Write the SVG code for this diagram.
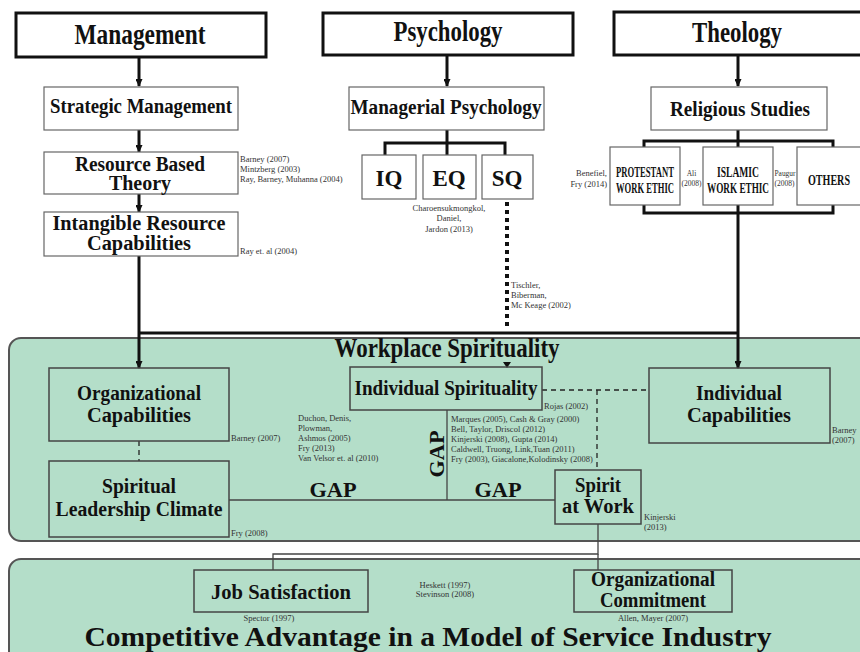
<svg xmlns="http://www.w3.org/2000/svg" width="860" height="652" viewBox="0 0 860 652">
<defs>
<marker id="ah" markerWidth="8" markerHeight="7" refX="7" refY="3.5" orient="auto" markerUnits="userSpaceOnUse">
<path d="M0,0 L8,3.5 L0,7 Z" fill="#111"/>
</marker>
</defs>
<style>
.big{stroke:#111;stroke-width:3;fill:#fff}
.box{stroke:#666;stroke-width:1.2;fill:#fff}
.gbox{stroke:#444;stroke-width:1.5;fill:none}
.panel{fill:#b4dec9;stroke:#555;stroke-width:2}
.t{font-family:"Liberation Serif","Times New Roman",serif;font-weight:bold;fill:#111;text-anchor:middle}
.h1{font-size:29px}
.h2{font-size:20px}
.h3{font-size:14px}
.c{font-family:"Liberation Serif","Times New Roman",serif;font-size:8.5px;fill:#333}
.cs{font-size:7.5px}
.cm{text-anchor:middle}
.ce{text-anchor:end}
.th{stroke:#111;stroke-width:3;fill:none}
.thin{stroke:#444;stroke-width:1.3;fill:none}
.dash{stroke:#222;stroke-width:1.3;fill:none;stroke-dasharray:5 4}
.dot{stroke:#111;stroke-width:4;fill:none;stroke-dasharray:4 4}
</style>

<g id="panels">
<rect class="panel" x="9" y="338" width="880" height="203" rx="12"/>
<rect class="panel" x="9" y="559" width="880" height="120" rx="12"/>
</g>

<g id="connectors">
<line class="th" x1="139" y1="57" x2="139" y2="86" marker-end="url(#ah)"/>
<line class="th" x1="139" y1="130" x2="139" y2="152" marker-end="url(#ah)"/>
<line class="th" x1="139" y1="194" x2="139" y2="212" marker-end="url(#ah)"/>
<line class="th" x1="139" y1="256" x2="139" y2="368" marker-end="url(#ah)"/>
<line class="th" x1="139" y1="333" x2="738" y2="333"/>
<line class="th" x1="447" y1="55" x2="447" y2="86" marker-end="url(#ah)"/>
<polyline class="th" points="385,155 385,143 505,143 505,155"/>
<line class="th" x1="447" y1="130" x2="447" y2="155"/>
<line class="dot" x1="507" y1="202" x2="507" y2="330"/>
<path d="M503,362 L511,362 L507,368 Z" fill="#111"/>
<line class="th" x1="738" y1="55" x2="738" y2="86" marker-end="url(#ah)"/>
<polyline class="th" points="644,148 644,141 833,141 833,148"/>
<line class="th" x1="738" y1="130" x2="738" y2="148"/>
<polyline class="th" points="644,205 644,213 833,213 833,205"/>
<line class="th" x1="738" y1="205" x2="738" y2="368" marker-end="url(#ah)"/>
<line class="dash" x1="139" y1="441" x2="139" y2="461"/>
<line class="dash" x1="542" y1="390" x2="649" y2="390"/>
<line class="dash" x1="597" y1="390" x2="597" y2="470"/>
<line class="thin" x1="447" y1="410" x2="447" y2="500"/>
<line class="thin" x1="229" y1="500" x2="555" y2="500"/>
<polyline class="thin" points="598,524 598,554 273,554 273,570"/>
<line class="thin" x1="598" y1="554" x2="598" y2="570"/>
</g>

<g id="management">
<rect class="big" x="16" y="13" width="250" height="44"/>
<text class="t h1" x="140" y="44" textLength="131" lengthAdjust="spacingAndGlyphs">Management</text>
</g>
<g id="psychology">
<rect class="big" x="323" y="13" width="250" height="42"/>
<text class="t h1" x="448" y="41" textLength="109" lengthAdjust="spacingAndGlyphs">Psychology</text>
</g>
<g id="theology">
<rect class="big" x="614" y="12" width="260" height="43"/>
<text class="t h1" x="737" y="42" textLength="90" lengthAdjust="spacingAndGlyphs">Theology</text>
</g>

<g id="strategic-management">
<rect class="box" x="44" y="87" width="194" height="43"/>
<text class="t h2" x="141" y="113" textLength="182" lengthAdjust="spacingAndGlyphs">Strategic Management</text>
</g>
<g id="managerial-psychology">
<rect class="box" x="349" y="87" width="195" height="43"/>
<text class="t h2" x="446" y="114" textLength="191" lengthAdjust="spacingAndGlyphs">Managerial Psychology</text>
</g>
<g id="religious-studies">
<rect class="box" x="651" y="87" width="176" height="43"/>
<text class="t h2" x="740" y="116" textLength="140" lengthAdjust="spacingAndGlyphs">Religious Studies</text>
</g>

<g id="resource-based-theory">
<rect class="box" x="44" y="152" width="194" height="42"/>
<text class="t h2" x="140" y="171" textLength="130" lengthAdjust="spacingAndGlyphs">Resource Based</text>
<text class="t h2" x="140" y="190">Theory</text>
<text class="c" x="240" y="162">Barney (2007)</text>
<text class="c" x="240" y="172">Mintzberg (2003)</text>
<text class="c" x="240" y="182">Ray, Barney, Muhanna (2004)</text>
</g>
<g id="intangible-resource">
<rect class="box" x="44" y="212" width="194" height="44"/>
<text class="t h2" x="139" y="230" textLength="173" lengthAdjust="spacingAndGlyphs">Intangible Resource</text>
<text class="t h2" x="139" y="250" textLength="104" lengthAdjust="spacingAndGlyphs">Capabilities</text>
<text class="c" x="240" y="254">Ray et. al (2004)</text>
</g>

<g id="iq">
<rect class="box" x="362" y="155" width="54" height="44"/>
<text class="t" x="389" y="186" font-size="23">IQ</text>
</g>
<g id="eq">
<rect class="box" x="423" y="155" width="53" height="44"/>
<text class="t" x="449" y="186" font-size="23">EQ</text>
<text class="c cm" x="449" y="211">Charoensukmongkol,</text>
<text class="c cm" x="449" y="221">Daniel,</text>
<text class="c cm" x="449" y="232">Jardon (2013)</text>
</g>
<g id="sq">
<rect class="box" x="482" y="155" width="51" height="44"/>
<text class="t" x="507" y="186" font-size="23">SQ</text>
<text class="c" x="511" y="288">Tischler,</text>
<text class="c" x="511" y="298">Biberman,</text>
<text class="c" x="511" y="308">Mc Keage (2002)</text>
</g>

<g id="protestant">
<rect class="box" x="610" y="147" width="70" height="58"/>
<text class="t h3" x="645" y="177" textLength="58" lengthAdjust="spacingAndGlyphs">PROTESTANT</text>
<text class="t h3" x="645" y="193" textLength="58" lengthAdjust="spacingAndGlyphs">WORK ETHIC</text>
<text class="c ce" x="607" y="176">Benefiel,</text>
<text class="c ce" x="607" y="187">Fry (2014)</text>
</g>
<g id="islamic">
<rect class="box" x="703" y="147" width="70" height="58"/>
<text class="t h3" x="738" y="177" textLength="42" lengthAdjust="spacingAndGlyphs">ISLAMIC</text>
<text class="t h3" x="738" y="193" textLength="62" lengthAdjust="spacingAndGlyphs">WORK ETHIC</text>
<text class="c cs cm" x="691.5" y="176">Ali</text>
<text class="c cs cm" x="691.5" y="186" textLength="20" lengthAdjust="spacingAndGlyphs">(2008)</text>
</g>
<g id="others">
<rect class="box" x="797" y="147" width="75" height="58"/>
<text class="t h3" x="829" y="185" textLength="42" lengthAdjust="spacingAndGlyphs">OTHERS</text>
<text class="c cs" x="774.5" y="176" textLength="21" lengthAdjust="spacingAndGlyphs">Paugur</text>
<text class="c cs" x="774.5" y="186" textLength="20" lengthAdjust="spacingAndGlyphs">(2008)</text>
</g>

<g id="workplace-spirituality">
<text class="t" x="447" y="357" font-size="27" textLength="225" lengthAdjust="spacingAndGlyphs">Workplace Spirituality</text>
</g>

<g id="organizational-capabilities">
<rect class="gbox" x="49" y="368" width="180" height="73"/>
<text class="t h2" x="139" y="400" textLength="124" lengthAdjust="spacingAndGlyphs">Organizational</text>
<text class="t h2" x="139" y="422" textLength="104" lengthAdjust="spacingAndGlyphs">Capabilities</text>
<text class="c" x="231" y="441">Barney (2007)</text>
</g>
<g id="individual-spirituality">
<rect class="gbox" x="350" y="367" width="192" height="43"/>
<text class="t h2" x="446" y="395" textLength="183" lengthAdjust="spacingAndGlyphs">Individual Spirituality</text>
<text class="c" x="544" y="409">Rojas (2002)</text>
</g>
<g id="individual-capabilities">
<rect class="gbox" x="649" y="368" width="181" height="75"/>
<text class="t h2" x="739" y="400" textLength="86" lengthAdjust="spacingAndGlyphs">Individual</text>
<text class="t h2" x="739" y="422" textLength="104" lengthAdjust="spacingAndGlyphs">Capabilities</text>
<text class="c" x="832" y="433">Barney</text>
<text class="c" x="832" y="443">(2007)</text>
</g>
<g id="spiritual-leadership-climate">
<rect class="gbox" x="49" y="461" width="180" height="76"/>
<text class="t h2" x="139" y="493" textLength="74" lengthAdjust="spacingAndGlyphs">Spiritual</text>
<text class="t h2" x="139" y="516" textLength="167" lengthAdjust="spacingAndGlyphs">Leadership Climate</text>
<text class="c" x="231" y="536">Fry (2008)</text>
</g>
<g id="gap-labels">
<text class="t h2" x="333" y="497" textLength="47" lengthAdjust="spacingAndGlyphs">GAP</text>
<text class="t h2" x="498" y="497" textLength="47" lengthAdjust="spacingAndGlyphs">GAP</text>
<text class="t h2" transform="translate(444,454) rotate(-90)" x="0" y="0" textLength="47" lengthAdjust="spacingAndGlyphs">GAP</text>
</g>
<g id="citations-mid">
<text class="c" x="298" y="421">Duchon, Denis,</text>
<text class="c" x="298" y="431">Plowman,</text>
<text class="c" x="298" y="441">Ashmos (2005)</text>
<text class="c" x="298" y="451">Fry (2013)</text>
<text class="c" x="298" y="461">Van Velsor et. al (2010)</text>
<text class="c" x="451" y="422">Marques (2005), Cash &amp; Gray (2000)</text>
<text class="c" x="451" y="432">Bell, Taylor, Driscol (2012)</text>
<text class="c" x="451" y="442">Kinjerski (2008), Gupta (2014)</text>
<text class="c" x="451" y="452">Caldwell, Truong, Link,Tuan (2011)</text>
<text class="c" x="451" y="462">Fry (2003), Giacalone,Kolodinsky (2008)</text>
</g>
<g id="spirit-at-work">
<rect class="gbox" x="555" y="470" width="86" height="54"/>
<text class="t h2" x="598" y="492" textLength="46" lengthAdjust="spacingAndGlyphs">Spirit</text>
<text class="t h2" x="598" y="513" textLength="72" lengthAdjust="spacingAndGlyphs">at Work</text>
<text class="c" x="644" y="520">Kinjerski</text>
<text class="c" x="644" y="530">(2013)</text>
</g>

<g id="job-satisfaction">
<rect class="gbox" x="194" y="570" width="174" height="42"/>
<text class="t h2" x="281" y="599" textLength="140" lengthAdjust="spacingAndGlyphs">Job Satisfaction</text>
<text class="c cm" x="269" y="621">Spector (1997)</text>
</g>
<g id="heskett">
<text class="c cm" x="445" y="588">Heskett (1997)</text>
<text class="c cm" x="445" y="597">Stevinson (2008)</text>
</g>
<g id="organizational-commitment">
<rect class="gbox" x="574" y="570" width="158" height="42"/>
<text class="t h2" x="653" y="586" textLength="124" lengthAdjust="spacingAndGlyphs">Organizational</text>
<text class="t h2" x="653" y="607" textLength="106" lengthAdjust="spacingAndGlyphs">Commitment</text>
<text class="c cm" x="653" y="621">Allen, Mayer (2007)</text>
</g>
<g id="competitive-advantage">
<text class="t" x="428" y="646" font-size="28" textLength="687" lengthAdjust="spacingAndGlyphs">Competitive Advantage in a Model of Service Industry</text>
</g>
</svg>
